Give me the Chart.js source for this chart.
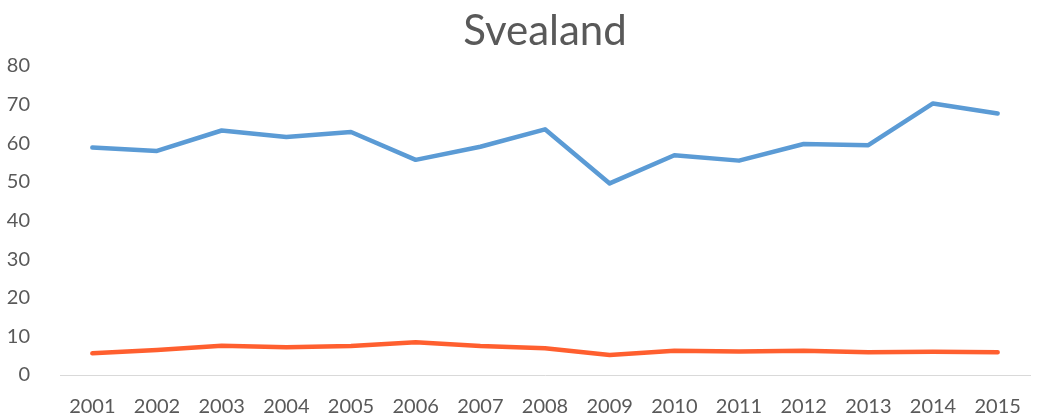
<!DOCTYPE html>
<html>
<head>
<meta charset="utf-8">
<script src="https://cdn.jsdelivr.net/npm/chart.js@4/dist/chart.umd.min.js"></script>
<style>
  html, body { margin: 0; padding: 0; background: #fff; }
  #wrap { width: 1048px; height: 415px; }
</style>
</head>
<body>
<div id="wrap"><canvas id="chartSvealand"></canvas></div>
<script>
// ---- data
const years = ["2001","2002","2003","2004","2005","2006","2007","2008","2009","2010","2011","2012","2013","2014","2015"];
const serieBlue = [58.9, 58.0, 63.3, 61.6, 62.9, 55.7, 59.1, 63.6, 49.6, 56.9, 55.5, 59.8, 59.5, 70.3, 67.7];
const serieOrange = [5.6, 6.5, 7.6, 7.2, 7.5, 8.5, 7.5, 6.9, 5.2, 6.3, 6.1, 6.3, 5.9, 6.0, 5.9];
const yTicks = [0, 10, 20, 30, 40, 50, 60, 70, 80];

const txt = "#595959";
const fam = "Lato, 'Open Sans', sans-serif";

new Chart(document.getElementById("chartSvealand"), {
    type: "line",
    data: {
        labels: years,
        datasets: [{
            label: "Serie 1",
            data: serieBlue,
            borderColor: "#5b9bd5",
            borderWidth: 4.5,
            pointRadius: 0,
            borderCapStyle: "round",
            borderJoinStyle: "round"
        }, {
            label: "Serie 2",
            data: serieOrange,
            borderColor: "#ff5f2f",
            borderWidth: 4.5,
            pointRadius: 0,
            borderCapStyle: "round",
            borderJoinStyle: "round"
        }]
    },
    options: {
        responsive: true,
        maintainAspectRatio: false,
        animation: false,
        layout: { padding: { left: 0, right: 18, top: 0, bottom: 0 } },
        plugins: {
            legend: { display: false },
            tooltip: { enabled: false },
            title: {
                display: true,
                fullSize: false, // centred over the plot area
                text: "Svealand",
                color: txt,
                font: { family: fam, size: 42, weight: 400, lineHeight: 1 },
                padding: { top: 10, bottom: 14 }
            }
        },
        scales: {
            x: {
                offset: true,
                grid: { display: false },
                border: { display: true, color: "#d9d9d9", width: 1 },
                ticks: { color: txt, font: { family: fam, size: 20 }, padding: 12, maxRotation: 0 },
                afterFit: function(s) { s.height = 40; }
            },
            y: {
                min: yTicks[0],
                max: yTicks[yTicks.length - 1],
                afterBuildTicks: function(s) { s.ticks = yTicks.map(v => ({ value: v })); },
                grid: { display: false },
                border: { display: false },
                ticks: { color: txt, font: { family: fam, size: 20 }, padding: 22 },
                afterFit: function(s) { s.width = 60; }
            }
        }
    }
});
</script>
</body>
</html>
